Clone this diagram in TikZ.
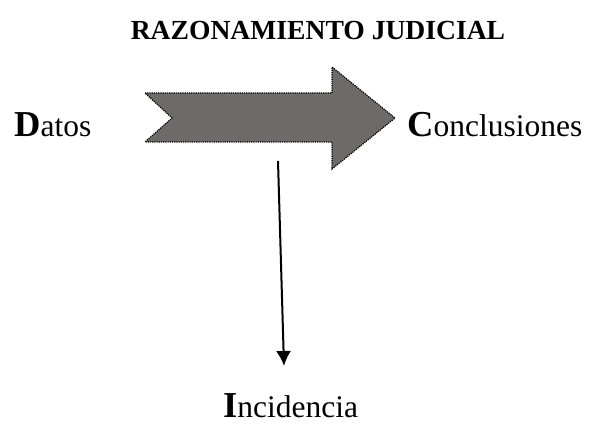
\documentclass[tikz,border=0pt]{standalone}
\usepackage{fontspec}
\setmainfont{Liberation Serif}
\usepackage{xcolor}
\usepackage{tikz}
\usetikzlibrary{calc,arrows.meta}
\definecolor{flechagris}{HTML}{6E6A6A}
\newcommand{\bigini}[1]{{\fontsize{36.5}{37}\selectfont\bfseries #1}}
\newcommand{\resto}[1]{{\fontsize{31.5}{32}\selectfont #1}}
\newcommand{\drawFlecha}[2]{% tail top left: x,y
  \draw[fill=flechagris,densely dotted,line width=1.2pt] (#1,#2) -- (#1+187,#2) -- (#1+187,#2-26)
    -- (#1+250,#2+25) -- (#1+187,#2+76) -- (#1+187,#2+49) -- (#1,#2+49) -- (#1+27,#2+25) -- cycle;
}
\begin{document}
\begin{tikzpicture}[x=1pt,y=-1pt,>={Latex[length=15pt,width=15pt]},
  palabra/.style={anchor=base west,inner sep=0pt}]
\useasboundingbox (0,0) rectangle (590,428);

% Title
\node[anchor=base,inner sep=0pt] (titulo) at (318,40)
  {\fontsize{27.6}{28}\selectfont\bfseries RAZONAMIENTO JUDICIAL};

% Datos and Conclusiones
\node[palabra] (datos) at (14,137) {\bigini{D}\resto{atos}};
\node[palabra] (conclusiones) at (407,137) {\bigini{C}\resto{onclusiones}};

% Big arrow
\drawFlecha{145}{93}

% Incidencia
\node[palabra] (incidencia) at (223,417) {\bigini{I}\resto{ncidencia}};
\coordinate (inicio) at (278,161);
\coordinate (fin) at (284,366);
\draw[->,line width=2pt] (inicio) to (fin);
\end{tikzpicture}
\end{document}
